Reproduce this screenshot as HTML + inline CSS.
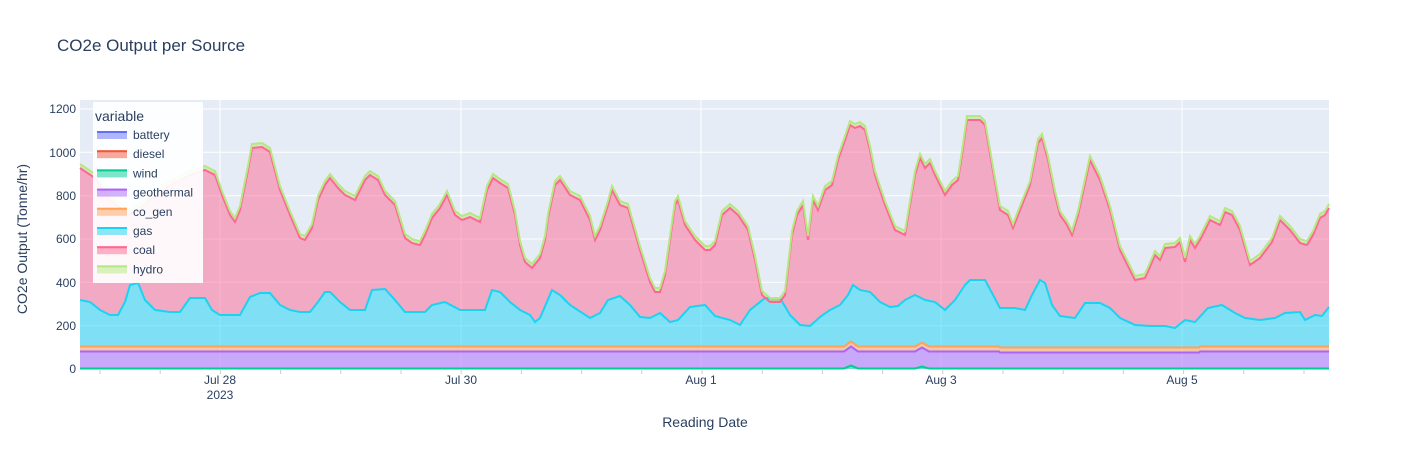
<!DOCTYPE html>
<html><head><meta charset="utf-8"><style>
body{margin:0;background:#fff;font-family:"Liberation Sans","DejaVu Sans",sans-serif}
svg text{font-family:"Liberation Sans","DejaVu Sans",sans-serif;fill:#2a3f5f}
</style></head><body>
<svg id="s" width="1410" height="450" xmlns="http://www.w3.org/2000/svg">
<rect x="80" y="100" width="1249" height="269" fill="#E5ECF6"/>
<g stroke="#fff" stroke-width="1">
<line x1="80" x2="1329" y1="325.7" y2="325.7"/><line x1="80" x2="1329" y1="282.3" y2="282.3"/>
<line x1="80" x2="1329" y1="239" y2="239"/><line x1="80" x2="1329" y1="195.7" y2="195.7"/>
<line x1="80" x2="1329" y1="152.3" y2="152.3"/><line x1="80" x2="1329" y1="109" y2="109"/>
<line x1="220" x2="220" y1="100" y2="369"/><line x1="461" x2="461" y1="100" y2="369"/>
<line x1="701" x2="701" y1="100" y2="369"/><line x1="941" x2="941" y1="100" y2="369"/>
<line x1="1182" x2="1182" y1="100" y2="369"/>
</g>
<g id="layers"></g>
<g stroke="#ccc" stroke-width="1" id="ticks"></g>
<g font-size="12" text-anchor="end">
<text x="76" y="373">0</text><text x="76" y="330">200</text><text x="76" y="287">400</text>
<text x="76" y="243">600</text><text x="76" y="200">800</text><text x="76" y="157">1000</text><text x="76" y="113">1200</text>
</g>
<g font-size="12" text-anchor="middle">
<text x="220" y="384">Jul 28</text><text x="220" y="399">2023</text>
<text x="461" y="384">Jul 30</text><text x="701" y="384">Aug 1</text>
<text x="941" y="384">Aug 3</text><text x="1182" y="384">Aug 5</text>
</g>
<text x="705" y="427" font-size="14" text-anchor="middle">Reading Date</text>
<text transform="translate(27,239) rotate(-90)" font-size="14" text-anchor="middle">CO2e Output (Tonne/hr)</text>
<text x="57" y="51" font-size="17">CO2e Output per Source</text>
<rect x="93" y="102" width="110" height="181" fill="#fff" fill-opacity="0.92"/>
<text x="95" y="121" font-size="14">variable</text>
<g id="leg" font-size="12"></g>
</svg>
<script>
const coal=[80,168,95,178,110,200,130,215,150,200,170,185,190,175,205,170,215,175,222,195,230,215,235,222,240,210,248,170,252,148,262,147,270,152,280,190,290,215,300,238,305,240,312,228,318,200,325,185,330,178,338,188,345,195,355,200,365,180,370,175,378,180,385,195,395,205,405,238,412,243,420,245,425,235,432,218,440,208,447,195,455,215,462,220,470,217,480,222,487,190,493,178,500,183,508,188,515,215,520,245,525,262,532,268,540,258,545,240,548,218,555,185,560,180,570,195,580,200,590,220,595,240,600,230,608,205,612,190,620,205,628,208,640,250,650,282,655,292,660,292,665,275,670,240,675,205,678,200,685,225,695,240,700,245,705,250,710,250,715,245,722,215,730,208,738,215,748,230,755,260,762,295,770,302,780,302,785,295,792,235,797,215,803,205,808,240,813,200,818,210,825,190,832,185,838,160,845,140,850,125,855,128,860,126,865,130,870,150,875,175,885,205,895,230,905,235,915,175,920,158,925,168,930,163,935,175,945,195,952,185,958,180,962,155,967,120,980,120,985,125,992,165,1000,210,1008,215,1013,228,1020,210,1030,185,1038,143,1042,138,1048,160,1055,195,1060,215,1067,225,1072,235,1078,215,1090,160,1095,170,1100,180,1110,210,1120,250,1135,280,1145,278,1152,262,1155,255,1160,260,1165,248,1175,247,1180,242,1185,262,1190,240,1195,248,1200,240,1210,220,1220,225,1225,212,1232,215,1240,230,1250,265,1260,258,1272,242,1280,220,1290,230,1300,243,1307,245,1313,235,1320,218,1325,215,1329,208];
const gas=[80,300,90,302,100,310,110,315,118,315,125,302,130,285,138,283,145,300,155,310,170,312,180,312,190,298,205,298,212,310,220,315,240,315,250,297,260,293,270,293,280,305,290,310,300,312,310,312,318,302,325,292,330,292,340,302,350,310,365,310,372,290,385,289,395,300,405,312,425,312,432,305,445,302,460,310,485,310,492,290,500,292,510,302,520,310,530,315,535,322,540,318,552,290,560,295,570,305,590,318,600,313,608,300,620,296,630,305,640,317,650,318,660,313,670,322,678,320,690,307,705,305,715,316,730,320,740,325,750,310,765,298,780,298,790,315,800,325,810,326,820,317,830,310,840,305,848,295,853,285,860,290,870,292,880,302,890,307,898,306,905,300,915,295,925,300,935,302,945,310,955,300,965,285,970,280,985,280,992,293,1000,308,1015,308,1025,310,1032,295,1040,280,1045,283,1052,305,1060,316,1075,318,1085,303,1100,303,1110,308,1120,318,1135,325,1150,326,1165,326,1175,328,1185,320,1195,322,1208,308,1222,305,1235,313,1245,318,1260,320,1275,318,1285,313,1300,312,1305,320,1315,315,1322,316,1329,307];
function interp(a,x){for(let i=0;i<a.length-2;i+=2){if(x<=a[i+2]){const t=(x-a[i])/(a[i+2]-a[i]);return a[i+1]+t*(a[i+3]-a[i+1]);}}return a[a.length-1];}
const xs=[];for(let x=80;x<=1329;x+=1)xs.push(x);
function bump(x,c){return Math.max(0,1-Math.abs(x-c)/7);}
const L={};
L.base=xs.map(x=>369);
L.battery=L.base;L.diesel=L.base;
L.wind=xs.map(x=>368.5-3*bump(x,851)-2*bump(x,922));
L.geo=xs.map(x=>{let v=351.5; if(x>=1000&&x<1200)v=352.5; return v-5*bump(x,851)-4*bump(x,922);});
L.cog=xs.map((x,i)=>L.geo[i]-5);
L.gas=xs.map(x=>interp(gas,x));
L.coal=xs.map(x=>interp(coal,x));
L.hydro=L.coal.map(v=>v-4);
const order=[["battery","#636efa","base"],["diesel","#EF553B","battery"],["wind","#00cc96","diesel"],["geo","#ab63fa","wind"],["cog","#FFA15A","geo"],["gas","#19d3f3","cog"],["coal","#FF6692","gas"],["hydro","#B6E880","coal"]];
let h="";
for(const [k,c,b] of order){
 const top=xs.map((x,i)=>x+","+L[k][i].toFixed(1));
 const bot=xs.map((x,i)=>x+","+L[b][i].toFixed(1)).reverse();
 h+=`<polygon points="${top.join(" ")} ${bot.join(" ")}" fill="${c}" fill-opacity="0.5"/>`;
}
for(const [k,c] of order){
 if(k=="battery"||k=="diesel")continue;
 h+=`<polyline points="${xs.map((x,i)=>x+","+L[k][i].toFixed(1)).join(" ")}" fill="none" stroke="${c}" stroke-width="2"/>`;
}
document.getElementById("layers").innerHTML=h;
let t="";for(let x=100;x<1329;x+=60.2){t+=`<line x1="${x}" x2="${x}" y1="369" y2="374"/>`;}
document.getElementById("ticks").innerHTML=t;
const names=["battery","diesel","wind","geothermal","co_gen","gas","coal","hydro"];
let g="";names.forEach((n,i)=>{const y=135+i*19.2,c=order[i][1];
g+=`<rect x="97" y="${y-4}" width="30" height="8" fill="${c}" fill-opacity="0.5"/><line x1="97" x2="127" y1="${y-3}" y2="${y-3}" stroke="${c}" stroke-width="2"/><text x="133" y="${y+4}">${n}</text>`;});
document.getElementById("leg").innerHTML=g;
</script>
</body></html>
